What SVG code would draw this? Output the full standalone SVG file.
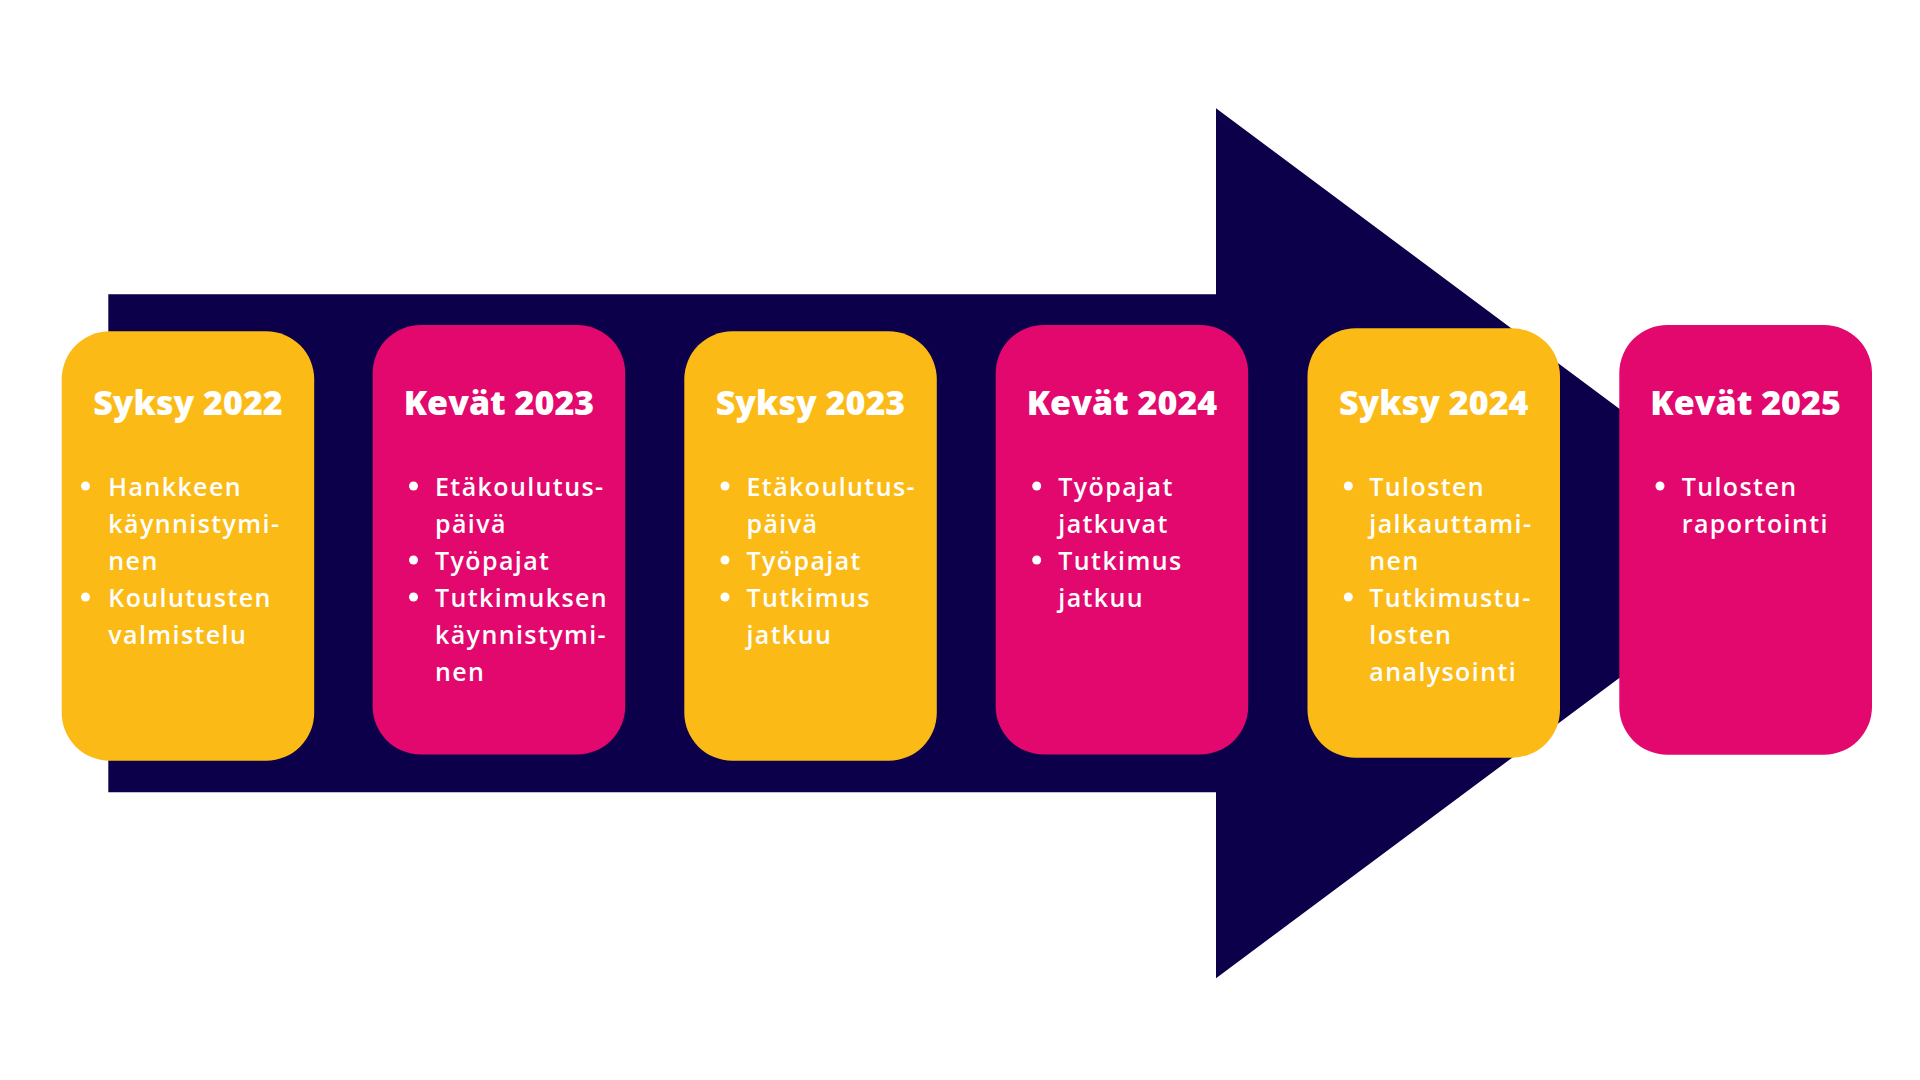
<svg xmlns="http://www.w3.org/2000/svg" width="1920" height="1080" viewBox="0 0 1920 1080">
<style>
.y{fill:#FBBA16}
.p{fill:#E2086E}
.t{font-family:"Open Sans","Liberation Sans",sans-serif;font-weight:800;font-size:34px;fill:#fff;text-anchor:middle}
.b{font-family:"Open Sans","Liberation Sans",sans-serif;font-weight:600;font-size:25px;letter-spacing:1.4px;fill:#fff}
.d{fill:#fff}
</style>
<rect width="1920" height="1080" fill="#fff"/>
<g id="connectors">
<polygon points="108.3,294.3 1216,294.3 1216,108.3 1800,543.3 1216,978.3 1216,792.3 108.3,792.3" fill="#0D004B"/>
</g>
<g id="node-syksy-2022">
<rect class="y" x="61.7" y="331.3" width="252.5" height="429.4" rx="48"/>
<text class="t" x="188" y="415">Syksy 2022</text>
<circle class="d" cx="85.5" cy="486" r="4.5"/>
<circle class="d" cx="85.5" cy="597" r="4.5"/>
<text class="b" x="108.3" y="496">Hankkeen</text>
<text class="b" x="108.3" y="533">käynnistymi-</text>
<text class="b" x="108.3" y="570">nen</text>
<text class="b" x="108.3" y="607">Koulutusten</text>
<text class="b" x="108.3" y="644">valmistelu</text>
</g>
<g id="node-kevat-2023">
<rect class="p" x="372.7" y="325" width="252.5" height="429.5" rx="48"/>
<text class="t" x="499" y="415">Kevät 2023</text>
<circle class="d" cx="413.5" cy="486" r="4.5"/>
<circle class="d" cx="413.5" cy="560" r="4.5"/>
<circle class="d" cx="413.5" cy="597" r="4.5"/>
<text class="b" x="435" y="496">Etäkoulutus-</text>
<text class="b" x="435" y="533">päivä</text>
<text class="b" x="435" y="570">Työpajat</text>
<text class="b" x="435" y="607">Tutkimuksen</text>
<text class="b" x="435" y="644">käynnistymi-</text>
<text class="b" x="435" y="681">nen</text>
</g>
<g id="node-syksy-2023">
<rect class="y" x="684.3" y="331.3" width="252.5" height="429.4" rx="48"/>
<text class="t" x="810.5" y="415">Syksy 2023</text>
<circle class="d" cx="725" cy="486" r="4.5"/>
<circle class="d" cx="725" cy="560" r="4.5"/>
<circle class="d" cx="725" cy="597" r="4.5"/>
<text class="b" x="746.5" y="496">Etäkoulutus-</text>
<text class="b" x="746.5" y="533">päivä</text>
<text class="b" x="746.5" y="570">Työpajat</text>
<text class="b" x="746.5" y="607">Tutkimus</text>
<text class="b" x="746.5" y="644">jatkuu</text>
</g>
<g id="node-kevat-2024">
<rect class="p" x="995.7" y="325" width="252.5" height="429.5" rx="48"/>
<text class="t" x="1122" y="415">Kevät 2024</text>
<circle class="d" cx="1036.7" cy="486" r="4.5"/>
<circle class="d" cx="1036.7" cy="560" r="4.5"/>
<text class="b" x="1058.3" y="496">Työpajat</text>
<text class="b" x="1058.3" y="533">jatkuvat</text>
<text class="b" x="1058.3" y="570">Tutkimus</text>
<text class="b" x="1058.3" y="607">jatkuu</text>
</g>
<g id="node-syksy-2024">
<rect class="y" x="1307.5" y="328.3" width="252.5" height="429.4" rx="48"/>
<text class="t" x="1433.7" y="415">Syksy 2024</text>
<circle class="d" cx="1348.3" cy="486" r="4.5"/>
<circle class="d" cx="1348.3" cy="597" r="4.5"/>
<text class="b" x="1369.3" y="496">Tulosten</text>
<text class="b" x="1369.3" y="533">jalkauttami-</text>
<text class="b" x="1369.3" y="570">nen</text>
<text class="b" x="1369.3" y="607">Tutkimustu-</text>
<text class="b" x="1369.3" y="644">losten</text>
<text class="b" x="1369.3" y="681">analysointi</text>
</g>
<g id="node-kevat-2025">
<rect class="p" x="1619.3" y="325" width="252.7" height="429.7" rx="48"/>
<text class="t" x="1745.6" y="415">Kevät 2025</text>
<circle class="d" cx="1660" cy="486" r="4.5"/>
<text class="b" x="1681.7" y="496">Tulosten</text>
<text class="b" x="1681.7" y="533">raportointi</text>
</g>
</svg>
